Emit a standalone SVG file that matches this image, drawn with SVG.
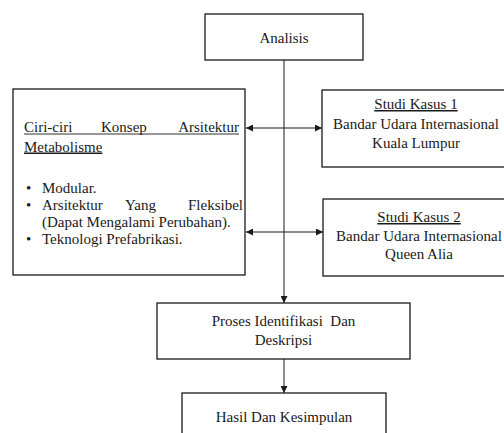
<svg xmlns="http://www.w3.org/2000/svg" width="504" height="433" viewBox="0 0 504 433">
<style>
  rect.box { fill: #ffffff; stroke: #1a1a1a; stroke-width: 1.3; }
  text { font-family: "Liberation Serif", "Times New Roman", serif; font-size: 15px; fill: #1a1a1a; }
  .c { text-anchor: middle; }
  .e { text-anchor: end; }
  .u { text-decoration: underline; }
  .ln { stroke: #1a1a1a; stroke-width: 1; fill: none; }
</style>
<defs>
  <marker id="ah" viewBox="0 0 10 10" refX="10" refY="5" markerWidth="7" markerHeight="7" markerUnits="userSpaceOnUse" orient="auto-start-reverse">
    <path d="M0,0 L10,5 L0,10 Z" fill="#1a1a1a"/>
  </marker>
</defs>
<rect width="504" height="433" fill="#ffffff"/>
<g id="connectors">
  <line class="ln" x1="284" y1="60" x2="284" y2="303" marker-end="url(#ah)"/>
  <line class="ln" x1="246" y1="128" x2="322" y2="128" marker-start="url(#ah)" marker-end="url(#ah)"/>
  <line class="ln" x1="246" y1="232" x2="323" y2="232" marker-start="url(#ah)" marker-end="url(#ah)"/>
  <line class="ln" x1="284" y1="359" x2="284" y2="393" marker-end="url(#ah)"/>
</g>
<g id="analisis">
  <rect class="box" x="205" y="14" width="158" height="46"/>
  <text class="c" x="284" y="43">Analisis</text>
</g>
<g id="ciri-ciri">
  <rect class="box" x="13" y="89" width="232" height="186"/>
  <text x="24" y="131.5">Ciri-ciri</text>
  <text x="101" y="131.5">Konsep</text>
  <text class="e" x="239" y="131.5">Arsitektur</text>
  <line x1="24" y1="134" x2="239" y2="134" stroke="#1a1a1a" stroke-width="0.9"/>
  <text class="u" x="24" y="151.5">Metabolisme</text>
  <text x="26" y="192.5">•</text>
  <text x="42" y="192.5">Modular.</text>
  <text x="26" y="209.5">•</text>
  <text x="42" y="209.5">Arsitektur</text>
  <text x="125" y="209.5">Yang</text>
  <text class="e" x="243" y="209.5">Fleksibel</text>
  <text x="42" y="226.5">(Dapat Mengalami Perubahan).</text>
  <text x="26" y="243.5">•</text>
  <text x="42" y="243.5">Teknologi Prefabrikasi.</text>
</g>
<g id="studi-kasus-1">
  <rect class="box" x="322" y="90" width="190" height="77"/>
  <text class="c u" x="416" y="109">Studi Kasus 1</text>
  <text class="c" x="416" y="129">Bandar Udara Internasional</text>
  <text class="c" x="416" y="148">Kuala Lumpur</text>
</g>
<g id="studi-kasus-2">
  <rect class="box" x="323" y="199" width="190" height="77"/>
  <text class="c u" x="419" y="222">Studi Kasus 2</text>
  <text class="c" x="419" y="241">Bandar Udara Internasional</text>
  <text class="c" x="419" y="259">Queen Alia</text>
</g>
<g id="proses">
  <rect class="box" x="157" y="303" width="253" height="56"/>
  <text class="c" x="283.5" y="326" xml:space="preserve">Proses Identifikasi  Dan</text>
  <text class="c" x="283.5" y="345">Deskripsi</text>
</g>
<g id="hasil">
  <rect class="box" x="182" y="393" width="204" height="50"/>
  <text class="c" x="284" y="422">Hasil Dan Kesimpulan</text>
</g>
</svg>
